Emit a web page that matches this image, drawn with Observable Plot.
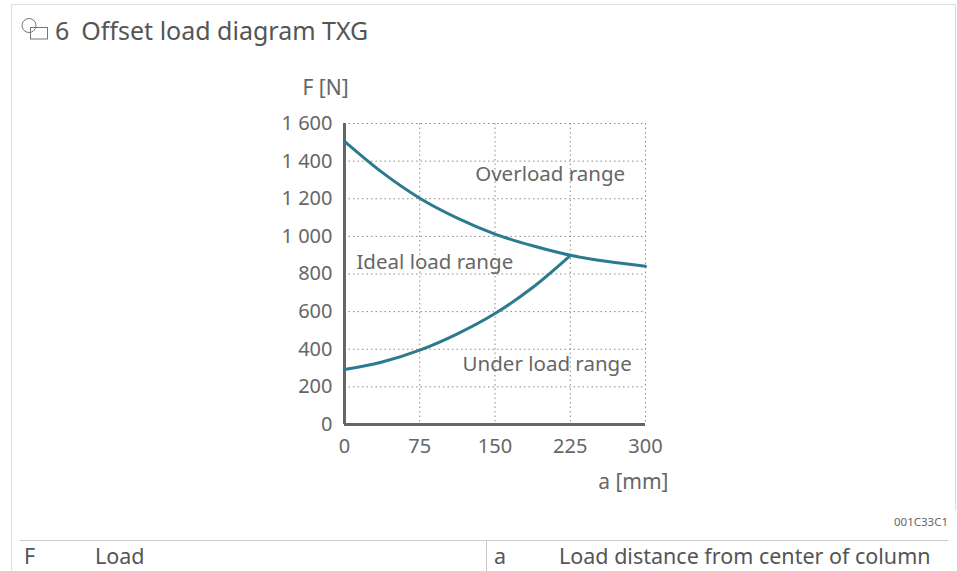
<!DOCTYPE html>
<html><head><meta charset="utf-8">
<script src="https://cdn.jsdelivr.net/npm/d3@7"></script>
<script src="https://cdn.jsdelivr.net/npm/@observablehq/plot@0.6"></script>
<style>
body{margin:0;background:#fff;font-family:"Noto Sans",sans-serif;color:#666;}
#page{position:relative;width:957px;height:571px;overflow:hidden;}
#frame{position:absolute;left:11px;top:4px;width:943px;height:506px;border:1px solid #ddd;border-bottom:none;}
#leftline{position:absolute;left:11px;top:505px;width:1px;height:70px;background:#ddd;}
#icon{position:absolute;left:0;top:0;}
#title{position:absolute;left:55px;top:14px;font-size:25px;line-height:32px;color:#555;white-space:nowrap;}
#chart{position:absolute;left:0;top:0;}
#code{position:absolute;right:9px;top:514px;font-size:11.5px;color:#666;}
#tline{position:absolute;left:20px;top:540px;width:928px;height:1px;background:#ccc;}
#tdiv{position:absolute;left:486px;top:541px;width:1px;height:30px;background:#ccc;}
.cell{position:absolute;top:541px;font-size:21.5px;color:#555;white-space:nowrap;}
</style></head><body>
<div id="page">
<div id="frame"></div><div id="leftline"></div>
<svg id="icon" width="60" height="50"><circle cx="29" cy="25.5" r="7" fill="none" stroke="#777" stroke-width="1"/><rect x="30.5" y="27.5" width="17" height="11.5" fill="none" stroke="#777" stroke-width="1"/></svg>
<div id="title">6<span style="margin-left:12px">Offset load diagram TXG</span></div>
<div id="chart"></div>
<div id="code">001C33C1</div>
<div id="tline"></div><div id="tdiv"></div>
<div class="cell" style="left:24px">F</div>
<div class="cell" style="left:95px">Load</div>
<div class="cell" style="left:494px">a</div>
<div class="cell" style="left:559px">Load distance from center of column</div>
</div>
<script>
const aUpper = [0, 37.5, 75, 112.5, 150, 187.5, 225, 262.5, 300];
const fUpper = [1505, 1340, 1203, 1097, 1012, 950, 900, 866, 841];
const aLower = [0, 37.5, 75, 112.5, 150, 187.5, 225];
const fLower = [292, 332, 395, 482, 590, 728, 898];
const xTicks = [0, 75, 150, 225, 300];
const yTicks = [0, 200, 400, 600, 800, 1000, 1200, 1400, 1600];
const regionNames = ["Overload range", "Ideal load range", "Under load range"];
const regionA = [205, 90, 202];
const regionF = [1329, 861, 319];

const upper = aUpper.map((a, i) => ({a, f: fUpper[i]}));
const lower = aLower.map((a, i) => ({a, f: fLower[i]}));
const regions = regionNames.map((t, i) => ({t, a: regionA[i], f: regionF[i]}));
const fmt = d3.formatLocale({decimal: ".", thousands: " ", grouping: [3], currency: ["", ""]}).format(",d");
const teal = "#2b7a8e";
const grey = "#666";

const chart = Plot.plot({
  width: 957, height: 500,
  marginLeft: 344, marginRight: 312, marginTop: 123, marginBottom: 76,
  style: {fontFamily: "Noto Sans, sans-serif", fontSize: "20px", color: grey, background: "transparent", overflow: "visible"},
  x: {domain: [0, 300], ticks: xTicks, label: null},
  y: {domain: [0, 1600], ticks: yTicks, label: null},
  marks: [
    Plot.ruleX(xTicks.slice(1), {stroke: "#888", strokeWidth: 1, strokeDasharray: "1.5,3"}),
    Plot.ruleY(yTicks.slice(1), {stroke: "#888", strokeWidth: 1, strokeDasharray: "1.5,3"}),
    Plot.axisX({ticks: xTicks, tickSize: 0, tickPadding: 14, fontSize: 20, label: null}),
    Plot.axisY({ticks: yTicks, tickSize: 0, tickPadding: 12, fontSize: 20, tickFormat: fmt, label: null}),
    Plot.ruleX([0], {stroke: grey, strokeWidth: 3}),
    Plot.ruleY([0], {stroke: grey, strokeWidth: 3}),
    Plot.line(upper, {x: "a", y: "f", stroke: teal, strokeWidth: 3, curve: "monotone-x"}),
    Plot.line(lower, {x: "a", y: "f", stroke: teal, strokeWidth: 3, curve: "monotone-x"}),
    Plot.text(regions, {x: "a", y: "f", text: "t", fontSize: 20.5, fill: grey}),
    Plot.text(["F [N]"], {frameAnchor: "top-left", dx: -42, dy: -43, fontSize: 21, fill: grey, textAnchor: "start"}),
    Plot.text(["a [mm]"], {frameAnchor: "bottom-right", dx: 23, dy: 64, fontSize: 21, fill: grey, textAnchor: "end"})
  ]
});
document.getElementById("chart").appendChild(chart);
</script>
</body></html>
